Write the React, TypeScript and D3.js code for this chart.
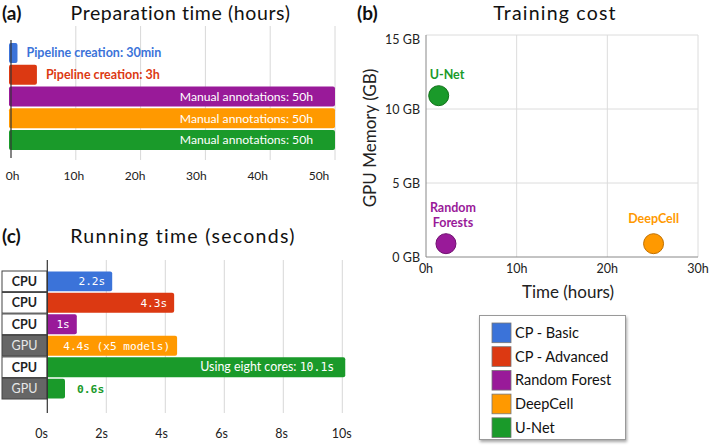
import React from "react";
import * as d3 from "d3";

const prepCategories = ["CP - Basic", "CP - Advanced", "Random Forest", "DeepCell", "U-Net"];
const prepValues = [1, 4, 50, 50, 50];
const prepLabels = ["Pipeline creation: 30min", "Pipeline creation: 3h", "Manual annotations: 50h", "Manual annotations: 50h", "Manual annotations: 50h"];
const prepTicks = [0, 10, 20, 30, 40, 50];

const trainNames = ["U-Net", "Random Forests", "DeepCell"];
const trainHours = [1.4, 2.2, 25.1];
const trainMemory = [10.9, 0.9, 0.9];
const trainColorIdx = [4, 2, 3];
const trainXTicks = [0, 10, 20, 30];
const trainYTicks = [0, 5, 10, 15];

const runRows = ["r0", "r1", "r2", "r3", "r4", "r5"];
const runValues = [2.2, 4.3, 1, 4.4, 10.1, 0.6];
const runColorIdx = [0, 1, 2, 3, 4, 4];
const runDevice = ["CPU", "CPU", "CPU", "GPU", "CPU", "GPU"];
const runLabels = ["2.2s", "4.3s", "1s", "4.4s (x5 models)", "10.1s", "0.6s"];
const runTicks = [0, 2, 4, 6, 8, 10];

const colors = ["#3b73d9", "#dc3912", "#991a99", "#ff9900", "#1a9a2a"];
const darkColors = ["#2a5ab0", "#b02a0c", "#701070", "#c07000", "#107018"];

const SANS = "Lato, 'Open Sans', sans-serif";
const MONO = "'DejaVu Sans Mono', 'Liberation Mono', monospace";

export default function App() {
  // Panel (a)
  const xA = d3.scaleLinear().domain([0, 50]).range([11, 335]);
  const xAlab = d3.scaleLinear().domain([0, 50]).range([12.5, 319]);
  const yA = d3.scaleBand<string>().domain(prepCategories).range([42.5, 150.5]).paddingInner(0.08).paddingOuter(0.02);

  // Panel (b)
  const xB = d3.scaleLinear().domain([0, 30]).range([426, 698]);
  const yB = d3.scaleLinear().domain([0, 15]).range([257, 35]);

  // Panel (c)
  const xC = d3.scaleLinear().domain([0, 10]).range([47.3, 342.3]);
  const xClab = d3.scaleLinear().domain([0, 10]).range([41.7, 341.7]);
  const yC = d3.scaleBand<string>().domain(runRows).range([271, 399]).paddingInner(0.07).paddingOuter(0.02);
  const yCbox = d3.scaleBand<string>().domain(runRows).range([271, 399]).paddingInner(0.04);

  const legendY = d3.scaleBand<string>().domain(prepCategories).range([323, 437.5]).paddingInner(0.17);

  return (
    <svg width={709} height={447} style={{ position: "absolute", left: 0, top: 0, background: "#fff" }} fontFamily={SANS}>
      <defs>
        <filter id="shadow" x="-10%" y="-10%" width="130%" height="130%">
          <feDropShadow dx="1" dy="2" stdDeviation="1.5" floodColor="#000" floodOpacity="0.35" />
        </filter>
      </defs>
      <rect width={709} height={447} fill="#fff" />

      {/* Panel (a) */}
      <text x={2} y={19.5} fontSize={19} fontWeight="bold" fill="#111">(a)</text>
      <text x={180.5} y={19.5} fontSize={19.5} letterSpacing={0.6} textAnchor="middle" fill="#111">Preparation time (hours)</text>
      {prepTicks.filter(t => t > 0).map(t => (
        <line key={t} x1={xA(t)} x2={xA(t)} y1={26} y2={160} stroke="#d8d8d8" strokeWidth={1} />
      ))}
      {prepCategories.map((c, i) => (
        <rect key={c} x={xA(0) - 2} y={yA(c)!} width={xA(prepValues[i]) - xA(0) + 2} height={yA.bandwidth()} rx={2} fill={colors[i]} />
      ))}
      <line x1={xA(0)} x2={xA(0)} y1={40} y2={158} stroke="#333" strokeWidth={1.2} />
      {prepCategories.map((c, i) => {
        const cy = yA(c)! + yA.bandwidth() / 2 + 4.3;
        if (prepValues[i] < 10) {
          return (
            <text key={c} x={xA(prepValues[i]) + 9} y={cy} fontSize={12.5} fontWeight="bold" fill={colors[i]}>{prepLabels[i]}</text>
          );
        }
        return (
          <text key={c} x={xA(prepValues[i]) - 22} y={cy} fontSize={12.2} textAnchor="end" fill="#fff">{prepLabels[i]}</text>
        );
      })}
      {prepTicks.map(t => (
        <text key={t} x={xAlab(t)} y={180} fontSize={12} textAnchor="middle" fill="#222">{`${t}h`}</text>
      ))}

      {/* Panel (b) */}
      <text x={357} y={19.5} fontSize={19} fontWeight="bold" fill="#111">(b)</text>
      <text x={555} y={19.5} fontSize={19.5} letterSpacing={1.2} textAnchor="middle" fill="#111">Training cost</text>
      {trainYTicks.filter(t => t > 0).map(t => (
        <line key={"gy" + t} x1={xB(0)} x2={xB(30)} y1={yB(t)} y2={yB(t)} stroke="#dcdcdc" />
      ))}
      {trainXTicks.filter(t => t > 0).map(t => (
        <line key={"gx" + t} x1={xB(t)} x2={xB(t)} y1={yB(15)} y2={yB(0)} stroke="#dcdcdc" />
      ))}
      <line x1={xB(0)} x2={xB(0)} y1={yB(15)} y2={yB(0)} stroke="#888" />
      <line x1={xB(0)} x2={xB(30)} y1={yB(0)} y2={yB(0)} stroke="#888" />
      {trainYTicks.map(t => (
        <text key={"ty" + t} x={420} y={yB(t) + (t === 15 ? 9 : 5)} fontSize={12.5} textAnchor="end" fill="#222">{`${t} GB`}</text>
      ))}
      {trainXTicks.map(t => (
        <text key={"tx" + t} x={xB(t)} y={273} fontSize={12.5} textAnchor="middle" fill="#222">{`${t}h`}</text>
      ))}
      <text x={568} y={298} fontSize={17} textAnchor="middle" fill="#222">Time (hours)</text>
      <text transform={`translate(376,${138}) rotate(-90)`} fontSize={17} textAnchor="middle" fill="#222">GPU Memory (GB)</text>
      {trainNames.map((n, i) => (
        <circle key={n} cx={xB(trainHours[i])} cy={yB(trainMemory[i])} r={10} fill={colors[trainColorIdx[i]]} stroke={darkColors[trainColorIdx[i]]} strokeWidth={1} />
      ))}
      <text x={xB(trainHours[0]) - 9} y={yB(trainMemory[0]) - 17} fontSize={12.5} fontWeight="bold" fill={colors[4]}>U-Net</text>
      <text fontSize={12.5} fontWeight="bold" textAnchor="middle" fill={colors[2]}>
        <tspan x={xB(trainHours[1]) + 7} y={yB(trainMemory[1]) - 32}>Random</tspan>
        <tspan x={xB(trainHours[1]) + 7} y={yB(trainMemory[1]) - 17}>Forests</tspan>
      </text>
      <text x={xB(trainHours[2])} y={yB(trainMemory[2]) - 21} fontSize={12.5} fontWeight="bold" textAnchor="middle" fill={colors[3]}>DeepCell</text>

      {/* Panel (c) */}
      <text x={2} y={243} fontSize={19} fontWeight="bold" fill="#111">(c)</text>
      <text x={183} y={243} fontSize={19.5} letterSpacing={1.3} textAnchor="middle" fill="#111">Running time (seconds)</text>
      {runTicks.filter(t => t > 0).map(t => (
        <line key={t} x1={xC(t)} x2={xC(t)} y1={260} y2={413} stroke="#d8d8d8" />
      ))}
      {runRows.map((r, i) => (
        <rect key={r} x={xC(0) - 2} y={yC(r)!} width={xC(runValues[i]) - xC(0) + 2} height={yC.bandwidth()} rx={2} fill={colors[runColorIdx[i]]} />
      ))}
      {runRows.map((r, i) => (
        <g key={"d" + r}>
          <rect x={2} y={yCbox(r)!} width={45} height={yCbox.bandwidth()} fill={runDevice[i] === "GPU" ? "#666" : "#fff"} stroke="#444" strokeWidth={1} />
          <text x={24.5} y={yCbox(r)! + yCbox.bandwidth() / 2 + 4.5} fontSize={12.5} textAnchor="middle" fontWeight={runDevice[i] === "GPU" ? "normal" : "bold"} fill={runDevice[i] === "GPU" ? "#e8e8e8" : "#222"}>{runDevice[i]}</text>
        </g>
      ))}
      <line x1={xC(0)} x2={xC(0)} y1={260} y2={413} stroke="#333" strokeWidth={1.2} />
      {runRows.map((r, i) => {
        const cy = yC(r)! + yC.bandwidth() / 2 + 4;
        if (i === 5) {
          return <text key={"l" + r} x={xC(runValues[i]) + 12} y={cy} fontSize={11.3} fontFamily={MONO} fontWeight="bold" fill={colors[4]}>{runLabels[i]}</text>;
        }
        if (i === 4) {
          return (
            <text key={"l" + r} x={xC(runValues[i]) - 11} y={cy} fontSize={12.4} textAnchor="end" fill="#fff">
              Using eight cores: <tspan fontFamily={MONO} fontSize={11.5}>{runLabels[i]}</tspan>
            </text>
          );
        }
        return <text key={"l" + r} x={xC(runValues[i]) - 7} y={cy} fontSize={11.1} fontFamily={MONO} textAnchor="end" fill="#fff">{runLabels[i]}</text>;
      })}
      {runTicks.map(t => (
        <text key={"t" + t} x={xClab(t)} y={438} fontSize={12.5} textAnchor="middle" fill="#222">{`${t}s`}</text>
      ))}

      {/* Legend */}
      <rect x={479.5} y={315.5} width={146} height={124} fill="#fff" stroke="#999" filter="url(#shadow)" />
      {prepCategories.map((c, i) => (
        <g key={"lg" + c}>
          <rect x={492} y={legendY(c)!} width={19} height={legendY.bandwidth()} fill={colors[i]} stroke="#777" strokeWidth={0.8} />
          <text x={515} y={legendY(c)! + legendY.bandwidth() / 2 + 5} fontSize={14.5} fill="#111">{c}</text>
        </g>
      ))}
    </svg>
  );
}
